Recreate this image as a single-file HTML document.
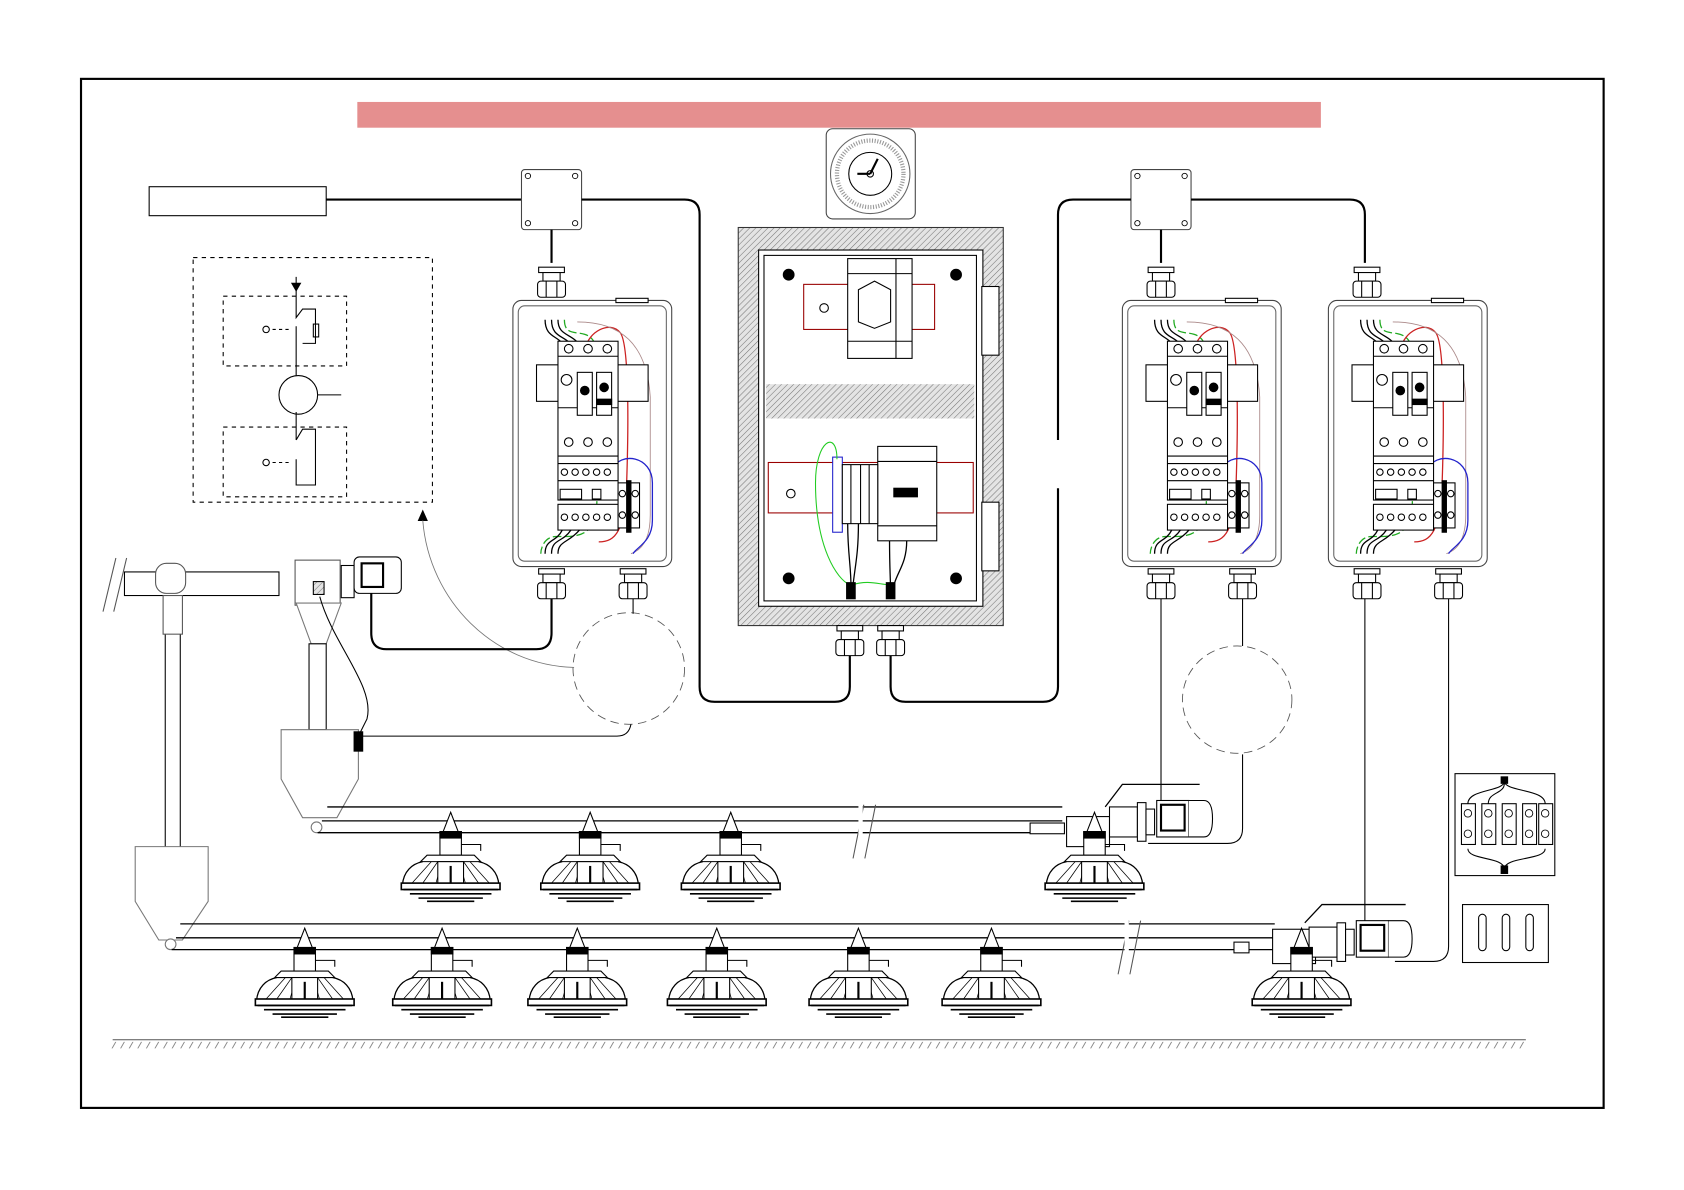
<!DOCTYPE html>
<html><head><meta charset="utf-8"><style>html,body{margin:0;padding:0;background:#fff}svg{display:block}</style></head><body>
<svg width="1684" height="1190" viewBox="0 0 1569.4 1109" xmlns="http://www.w3.org/2000/svg" fill="none" stroke="#000" stroke-width="1">
<defs>
<pattern id="hatch" width="4" height="4" patternUnits="userSpaceOnUse" patternTransform="rotate(45)"><rect width="4" height="4" fill="#e4e4e4" stroke="none"/><line x1="0" y1="0" x2="0" y2="4" stroke="#777" stroke-width="1"/></pattern>
<g id="feeder">
 <path d="M0,0 L-7,18 L7,18 Z" fill="#fff"/>
 <rect x="-10" y="18" width="20" height="22" fill="#fff"/>
 <rect x="-10" y="18" width="20" height="6" fill="#000"/>
 <path d="M10,30 H28 V36" />
 <path d="M-22,40 H22 L28,46 H-28 Z" fill="#fff"/>
 <path d="M-45,68 C-44,55 -36,48 -26,46 M45,68 C44,55 36,48 26,46" stroke-width="1.2"/>
 <path d="M-36,66 L-18,46 M36,66 L18,46 M-26,66 L-12,46 M26,66 L12,46 M-14,67 L-8,46 M14,67 L8,46" stroke-width="0.7"/>
 <rect x="-12" y="46" width="24" height="22" fill="#fff"/>
 <line x1="0" y1="50" x2="0" y2="72" stroke-width="2"/>
 <rect x="-46" y="66" width="92" height="6" fill="#fff" stroke-width="1.5"/>
 <path d="M-44,72 H44 M-38,76 H38 M-30,80 H30 M-22,83 H22" stroke-width="1.5"/>
</g>
<g id="gland">
 <rect x="-12" y="0" width="24" height="5" fill="#fff"/>
 <rect x="-8" y="5" width="16" height="8" fill="#fff"/>
 <rect x="-13" y="13" width="26" height="15" rx="3" fill="#fff"/>
 <path d="M-5,13 V28 M5,13 V28"/>
</g>
<g id="cbox">
 <rect x="0" y="0" width="148" height="248" rx="8" fill="#fff" stroke="#444"/>
 <rect x="5" y="5" width="138" height="238" rx="6" stroke="#666"/>
 <rect x="96" y="-2" width="30" height="4" fill="#fff"/>
 <path d="M30,18 C30,36 44,32 48,44 M36,18 C36,36 50,32 56,44 M42,18 C42,34 56,30 64,44" stroke-width="1.2"/>
 <path d="M48,18 C48,40 72,20 78,45 V180 C80,210 70,220 50,220 H40 C30,220 26,230 26,236" stroke="#2a2" stroke-dasharray="8,3" stroke-width="1.2"/>
 <path d="M68,44 C70,30 90,18 100,30 C108,40 108,110 106,170 C104,215 96,225 80,225" stroke="#c22" stroke-width="1.2"/>
 <path d="M60,20 C100,20 125,40 128,90 V200 C128,220 122,232 110,236" stroke="#a88" stroke-width="0.8"/>
 <path d="M92,158 C100,140 130,145 130,170 V205 C130,225 115,230 112,236" stroke="#22c" stroke-width="1.2"/>
 <rect x="22" y="60" width="104" height="34" fill="#fff"/>
 <rect x="42" y="38" width="56" height="148" fill="#fff"/>
 <path d="M42,52 H98 M42,100 H98 M42,145 H98 M42,168 H98"/>
 <circle cx="52" cy="45" r="4"/><circle cx="70" cy="45" r="4"/><circle cx="88" cy="45" r="4"/>
 <circle cx="52" cy="132" r="4"/><circle cx="70" cy="132" r="4"/><circle cx="88" cy="132" r="4"/>
 <rect x="60" y="67" width="14" height="40" fill="#fff"/><circle cx="67" cy="84" r="4" fill="#000"/>
 <rect x="78" y="67" width="14" height="40" fill="#fff"/><circle cx="85" cy="81" r="4" fill="#000"/><rect x="78" y="92" width="14" height="5" fill="#000"/>
 <circle cx="50" cy="74" r="5"/>
 <path d="M42,152 H98" /><circle cx="48" cy="160" r="3"/><circle cx="58" cy="160" r="3"/><circle cx="68" cy="160" r="3"/><circle cx="78" cy="160" r="3"/><circle cx="88" cy="160" r="3"/>
 <rect x="44" y="176" width="20" height="9" fill="#fff"/><rect x="74" y="176" width="8" height="9" fill="#fff"/>
 <rect x="42" y="190" width="56" height="24" fill="#fff"/>
 <circle cx="48" cy="202" r="3"/><circle cx="58" cy="202" r="3"/><circle cx="68" cy="202" r="3"/><circle cx="78" cy="202" r="3"/><circle cx="88" cy="202" r="3"/>
 <rect x="98" y="170" width="20" height="42" fill="#fff"/><rect x="106" y="168" width="4" height="48" fill="#000"/>
 <circle cx="102" cy="180" r="3"/><circle cx="114" cy="180" r="3"/><circle cx="102" cy="200" r="3"/><circle cx="114" cy="200" r="3"/>
 <path d="M30,236 C30,222 40,226 46,214 M36,236 C36,222 46,226 54,214 M42,236 C42,224 52,226 62,214" stroke-width="1.2"/>
</g>
<g id="motor">
 <rect x="-40" y="8" width="26" height="28" fill="#fff"/>
 <rect x="-14" y="4" width="8" height="36" fill="#fff"/>
 <rect x="-6" y="10" width="8" height="24" fill="#fff"/>
 <rect x="4" y="2" width="30" height="34" fill="#fff"/>
 <rect x="8" y="6" width="22" height="24" stroke-width="2"/>
 <path d="M34,2 H48 Q56,2 56,19 Q56,36 48,36 H34" fill="#fff"/>
</g>
</defs>

<rect x="75.5" y="73.5" width="1419" height="959" stroke-width="2"/>
<rect x="333" y="95" width="898" height="24" fill="#e58f8f" stroke="none"/>

<rect x="139" y="174" width="165" height="27" stroke-width="1"/>
<line x1="304" y1="186" x2="486" y2="186" stroke-width="2"/>
<rect x="486" y="158" width="56" height="56" rx="3" fill="#fff" stroke="#444"/>
<rect x="1054" y="158" width="56" height="56" rx="3" fill="#fff" stroke="#444"/>
<g fill="#fff" stroke-width="0.8"><circle cx="492" cy="164" r="2.5"/><circle cx="536" cy="164" r="2.5"/><circle cx="492" cy="208" r="2.5"/><circle cx="536" cy="208" r="2.5"/>
<circle cx="1060" cy="164" r="2.5"/><circle cx="1104" cy="164" r="2.5"/><circle cx="1060" cy="208" r="2.5"/><circle cx="1104" cy="208" r="2.5"/></g>
<path d="M542,186 H638 Q652,186 652,200 V640 Q652,654 666,654 H778 Q792,654 792,640 V610" stroke-width="2"/>
<path d="M1054,186 H1000 Q986,186 986,200 V410 M986,455 V640 Q986,654 972,654 H844 Q830,654 830,640 V610" stroke-width="2"/>
<path d="M1110,186 H1258 Q1272,186 1272,200 V245" stroke-width="2"/>
<line x1="514" y1="214" x2="514" y2="245" stroke-width="2"/>
<line x1="1082" y1="214" x2="1082" y2="245" stroke-width="2"/>

<rect x="770" y="120" width="83" height="84" rx="6" fill="#fff" stroke="#444"/>
<circle cx="811" cy="162" r="37" stroke="#666"/><circle cx="811" cy="162" r="31" stroke="#999" stroke-width="4" stroke-dasharray="1,1.5"/><circle cx="811" cy="162" r="20"/>
<path d="M811,162 L818,148 M811,162 H799" stroke-width="2"/><circle cx="811" cy="162" r="3"/>

<rect x="688" y="212" width="247" height="371" fill="url(#hatch)" stroke="#333"/>
<rect x="707" y="233" width="209" height="332" fill="#fff"/>
<rect x="712" y="238" width="198" height="322" fill="#fff"/>
<rect x="714" y="358" width="194" height="32" fill="url(#hatch)" stroke="none"/>
<rect x="915" y="267" width="16" height="64" fill="#fff"/><rect x="915" y="468" width="16" height="64" fill="#fff"/>
<g fill="#000"><circle cx="735" cy="256" r="5"/><circle cx="891" cy="256" r="5"/><circle cx="735" cy="539" r="5"/><circle cx="891" cy="539" r="5"/></g>
<rect x="749" y="265" width="122" height="42" stroke="#900"/>
<rect x="790" y="241" width="60" height="93" fill="#fff"/><path d="M790,255 H850 M790,318 H850 M835,241 V334"/>
<polygon points="800,270 815,262 830,270 830,300 815,306 800,300" />
<circle cx="768" cy="287" r="4"/>
<rect x="716" y="431" width="191" height="47" stroke="#900"/>
<rect x="818" y="416" width="55" height="88" fill="#fff"/><path d="M818,430 H873 M818,490 H873"/>
<rect x="833" y="455" width="22" height="8" fill="#000"/>
<rect x="776" y="426" width="9" height="70" fill="#fff" stroke="#22c"/>
<rect x="785" y="433" width="33" height="55" fill="#fff"/><path d="M793,433 V488 M802,433 V488 M810,433 V488"/>
<circle cx="737" cy="460" r="4"/>
<path d="M780,428 C780,400 760,410 760,450 C760,510 780,540 792,545 M794,545 C810,540 820,545 830,545" stroke="#2c2"/>
<path d="M790,488 C790,520 794,530 793,555 M800,488 C800,520 796,530 794,555 M829,504 C829,530 830,540 830,555 M845,504 C845,530 832,535 832,555" stroke-width="1.2"/>
<rect x="789" y="543" width="8" height="15" fill="#000"/><rect x="826" y="543" width="8" height="15" fill="#000"/>
<use href="#gland" transform="translate(792,583)"/><use href="#gland" transform="translate(830,583)"/>

<use href="#gland" transform="translate(514,249)"/>
<use href="#cbox" transform="translate(478,280)"/>
<use href="#gland" transform="translate(514,530)"/><use href="#gland" transform="translate(590,530)"/>
<use href="#gland" transform="translate(1082,249)"/>
<use href="#cbox" transform="translate(1046,280)"/>
<use href="#gland" transform="translate(1082,530)"/><use href="#gland" transform="translate(1158,530)"/>
<use href="#gland" transform="translate(1274,249)"/>
<use href="#cbox" transform="translate(1238,280)"/>
<use href="#gland" transform="translate(1274,530)"/><use href="#gland" transform="translate(1350,530)"/>

<rect x="180" y="240" width="223" height="228" stroke-dasharray="4,4"/>
<rect x="208" y="276" width="115" height="65" stroke-dasharray="4,4"/>
<rect x="208" y="398" width="115" height="65" stroke-dasharray="4,4"/>
<path d="M276,258 V296 L282,288 H294 V320 H282 M276,304 V350 M276,384 V410 M276,410 L282,400 H294 V452 H276 V428" />
<polygon points="272,264 280,264 276,271" fill="#000"/>
<rect x="292" y="302" width="5" height="12"/>
<path d="M248,307 H272 M248,431 H272" stroke-dasharray="3,3"/><circle cx="248" cy="307" r="3" fill="#fff"/><circle cx="248" cy="431" r="3" fill="#fff"/>
<ellipse cx="278" cy="368" rx="18" ry="18"/><line x1="296" y1="368" x2="318" y2="368"/>
<polygon points="390,485 398,485 394,476" fill="#000"/>
<path d="M394,485 C400,560 460,620 535,622" stroke="#777" stroke-width="0.8"/>
<ellipse cx="586" cy="623" rx="52" ry="52" stroke="#555" stroke-dasharray="8,5" stroke-width="0.8"/>
<ellipse cx="1153" cy="652" rx="51" ry="50" stroke="#555" stroke-dasharray="8,5" stroke-width="0.8"/>
<path d="M514,558 V590 Q514,605 500,605 H360 Q346,605 346,590 V545" stroke-width="2"/>
<path d="M590,558 V572"/>
<path d="M1082,558 V748 M1158,558 V602 M1158,703 V772 Q1158,786 1144,786 H1070"/>
<path d="M1272,558 V858 M1350,558 V882 Q1350,896 1336,896 H1300"/>
<path d="M336,686 H575 Q586,686 588,675"/>

<path d="M96,570 L108,520 M106,570 L118,520" stroke="#555"/>
<rect x="154" y="555" width="14" height="235" fill="#fff"/>
<rect x="116" y="533" width="144" height="22" fill="#fff"/>
<rect x="145" y="525" width="28" height="28" rx="10" fill="#fff" stroke="#555"/>
<rect x="152" y="555" width="18" height="36" fill="#fff" stroke="#555"/>
<path d="M126,789 H194 V840 L170,876 H148 L126,840 Z" fill="#fff" stroke="#777"/>
<circle cx="159" cy="880" r="5" fill="#fff" stroke="#777"/>
<rect x="275" y="522" width="42" height="42" fill="#fff" stroke="#555"/>
<rect x="292" y="542" width="10" height="12" fill="url(#hatch)"/>
<path d="M276,562 H318 L304,600 H290 Z" fill="#fff" stroke="#777"/>
<rect x="288" y="600" width="16" height="80" fill="#fff"/>
<path d="M262,680 H334 V726 L314,762 H282 L262,726 Z" fill="#fff" stroke="#777"/>
<circle cx="295" cy="771" r="5" fill="#fff" stroke="#777"/>
<rect x="318" y="527" width="12" height="30" fill="#fff"/>
<rect x="330" y="519" width="44" height="34" rx="5" fill="#fff"/>
<rect x="337" y="525" width="20" height="22" stroke-width="2"/>
<path d="M298,556 C310,600 350,640 342,670 L334,686"/>
<rect x="330" y="682" width="8" height="18" fill="#000"/>

<path d="M305,752 H990 M300,765 H990 M296,776 H990" stroke-width="1.2"/>
<path d="M795,800 L805,750 M806,800 L816,750" stroke="#555"/>
<rect x="800" y="750" width="4" height="30" fill="#fff" stroke="none"/>
<rect x="960" y="767" width="32" height="10" fill="#fff"/>
<rect x="994" y="761" width="40" height="28" fill="#fff"/>
<use href="#motor" transform="translate(1074,744)"/>
<path d="M1030,752 L1046,731 H1118" stroke-width="1.2"/>
<path d="M168,861 H1188 M164,874 H1188 M160,885 H1188" stroke-width="1.2"/>
<path d="M1042,908 L1052,858 M1053,908 L1063,858" stroke="#555"/>
<rect x="1048" y="858" width="4" height="30" fill="#fff" stroke="none"/>
<rect x="1150" y="878" width="14" height="10" fill="#fff"/>
<rect x="1186" y="866" width="40" height="32" fill="#fff"/>
<use href="#motor" transform="translate(1260,856)"/>
<path d="M1216,860 L1232,843 H1310" stroke-width="1.2"/>

<use href="#feeder" transform="translate(420,757)"/>
<use href="#feeder" transform="translate(550,757)"/>
<use href="#feeder" transform="translate(681,757)"/>
<use href="#feeder" transform="translate(1020,757)"/>
<use href="#feeder" transform="translate(284,865)"/>
<use href="#feeder" transform="translate(412,865)"/>
<use href="#feeder" transform="translate(538,865)"/>
<use href="#feeder" transform="translate(668,865)"/>
<use href="#feeder" transform="translate(800,865)"/>
<use href="#feeder" transform="translate(924,865)"/>
<use href="#feeder" transform="translate(1213,865)"/>

<rect x="1356" y="721" width="93" height="95" fill="#fff"/>
<g fill="#fff"><rect x="1362" y="749" width="13" height="38"/><rect x="1381" y="749" width="13" height="38"/><rect x="1400" y="749" width="13" height="38"/><rect x="1419" y="749" width="13" height="38"/><rect x="1434" y="749" width="13" height="38"/></g>
<g stroke-width="0.8"><circle cx="1368" cy="758" r="3.5"/><circle cx="1368" cy="777" r="3.5"/><circle cx="1387" cy="758" r="3.5"/><circle cx="1387" cy="777" r="3.5"/><circle cx="1406" cy="758" r="3.5"/><circle cx="1406" cy="777" r="3.5"/><circle cx="1425" cy="758" r="3.5"/><circle cx="1425" cy="777" r="3.5"/><circle cx="1440" cy="758" r="3.5"/><circle cx="1440" cy="777" r="3.5"/></g>
<path d="M1368,749 C1368,735 1402,738 1402,728 C1402,738 1440,735 1440,749 M1387,749 C1387,738 1402,740 1402,730" />
<path d="M1368,791 C1368,802 1402,798 1402,810 C1402,798 1440,802 1440,791"/>
<rect x="1399" y="724" width="6" height="6" fill="#000"/><rect x="1399" y="807" width="6" height="7" fill="#000"/>
<rect x="1363" y="843" width="80" height="54" fill="#fff"/>
<rect x="1378" y="852" width="7" height="34" rx="3.5"/><rect x="1400" y="852" width="7" height="34" rx="3.5"/><rect x="1422" y="852" width="7" height="34" rx="3.5"/>

<line x1="105" y1="969" x2="1422" y2="969" stroke="#555"/>
<line x1="106" y1="974" x2="1422" y2="974" stroke="#888" stroke-width="6" stroke-dasharray="1,7" transform="skewX(-30) translate(562,0)"/>
</svg>
</body></html>
